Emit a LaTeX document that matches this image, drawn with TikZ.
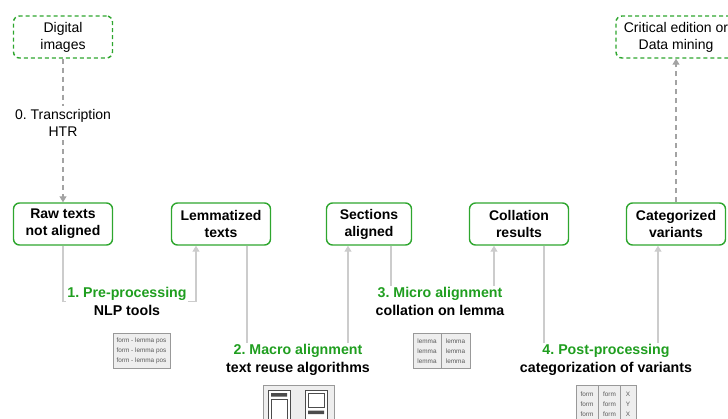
\documentclass[tikz,border=0pt]{standalone}
\usepackage{fontspec}
\setmainfont{Liberation Sans}
\usetikzlibrary{arrows.meta, positioning}
\definecolor{boxgreen}{HTML}{2EA62E}
\definecolor{stepgreen}{HTML}{1F9E1F}
\definecolor{linegray}{HTML}{CCCCCC}
\definecolor{dashgray}{HTML}{A3A3A3}
\definecolor{icongray}{HTML}{EEEEEE}
\tikzset{
    data/.style={draw=boxgreen, line width=1.4pt, rounded corners=6pt,
        minimum width=99pt, minimum height=42pt, align=center,
        font=\fontsize{14}{17}\selectfont\bfseries},
    ends/.style={data, dash pattern=on 4pt off 3pt,
        font=\fontsize{14}{17}\selectfont},
    steptitle/.style={text=stepgreen, inner sep=1pt,
        font=\fontsize{14.2}{17}\selectfont\bfseries},
    stepsub/.style={inner sep=1pt, font=\fontsize{14.2}{17}\selectfont\bfseries},
    link/.style={draw=linegray, line width=1.2pt},
    flow/.style={link, -{Triangle[width=7pt,length=6pt]}},
    dashflow/.style={draw=dashgray, line width=1.2pt, dash pattern=on 5pt off 4pt},
    icon/.style={draw=gray!80, fill=icongray, line width=0.9pt},
    tiny/.style={text=black!65, inner sep=0pt, align=center,
        font=\fontsize{6.4}{10}\selectfont},
}
\begin{document}
\frenchspacing
\begin{tikzpicture}[x=1pt, y=-1pt]
    \useasboundingbox (0,0) rectangle (728,418);
    % start and end
    \node[ends] (digital) at (63,37) {Digital\\images};
    \node[ends, minimum width=120pt] (crit) at (676,37) {Critical edition or\\Data mining};
    \node[align=center, fill=white, font=\fontsize{14}{17}\selectfont] (htr) at (63,123) {0. Transcription\\HTR};
    % data states
    \node[data] (raw) at (63,224) {Raw texts\\not aligned};
    \node[data] (lem) at (221,224) {Lemmatized\\texts};
    \node[data, minimum width=85pt] (sec) at (369,224) {Sections\\aligned};
    \node[data] (col) at (519,224) {Collation\\results};
    \node[data] (cat) at (676,224) {Categorized\\variants};
    % steps
    \node[steptitle] (p1) at (127,294) {1. Pre-processing};
    \node[stepsub, below=2pt of p1] (p1sub) {NLP tools};
    \node[steptitle] (p2) at (298,351) {2. Macro alignment};
    \node[stepsub, below=2pt of p2] (p2sub) {text reuse algorithms};
    \node[steptitle] (p3) at (440,294) {3. Micro alignment};
    \node[stepsub, below=2pt of p3] (p3sub) {collation on lemma};
    \node[steptitle] (p4) at (606,351) {4. Post-processing};
    \node[stepsub, below=2pt of p4] (p4sub) {categorization of variants};
    % connectors
    \draw[dashflow] (digital.south) -- (htr.north);
    \draw[dashflow, -{Triangle[width=7pt,length=6pt]}] (htr.south) -- (raw.north);
    \draw[dashflow, -{Triangle[width=7pt,length=6pt]}] (cat.north) -- (crit.south);
    \draw[link] (raw.south) |- (p1.south west);
    \draw[flow] (p1.south east) -| ([xshift=-25pt]lem.south);
    \draw[link] ([xshift=26pt]lem.south) -- ([xshift=26pt]lem.south |- p2.north);
    \draw[flow] ([xshift=-21pt]sec.south |- p2.north) -- ([xshift=-21pt]sec.south);
    \draw[link] ([xshift=22pt]sec.south) -- ([xshift=22pt]sec.south |- p3.north);
    \draw[flow] ([xshift=-25pt]col.south |- p3.north) -- ([xshift=-25pt]col.south);
    \draw[link] ([xshift=25pt]col.south) -- ([xshift=25pt]col.south |- p4.north);
    \draw[flow] ([xshift=-18pt]cat.south |- p4.north) -- ([xshift=-18pt]cat.south);
    % small pictures
    \draw[icon] (113,333) rectangle (170,368);
    \node[tiny] (tag) at (141.5,351) {form - lemma pos\\form - lemma pos\\form - lemma pos};
    \draw[icon] (413,333) rectangle (470,368) (441,333) -- (441,368);
    \node[tiny] (lemA) at (427,351) {lemma\\lemma\\lemma};
    \node[tiny] (lemB) at (455.5,351) {lemma\\lemma\\lemma};
    \draw[icon] (263,385) rectangle (334,428);
    \draw[draw=black!70, fill=white, line width=0.9pt] (268,390) rectangle (290,428) (305,390) rectangle (327,428);
    \fill[black!70] (271,393) rectangle (287,396.5) (308,410.5) rectangle (324,414);
    \draw[black!70, line width=0.9pt] (271,399.5) rectangle (287,428) (308,393) rectangle (324,407.5);
    \draw[icon] (576,385) rectangle (636,428) (598,385) -- (598,428) (620,385) -- (620,428);
    \node[tiny, align=left] (formA) at (587,404) {form\\form\\form};
    \node[tiny] (formB) at (609.5,404) {form\\form\\form};
    \node[tiny] (cls) at (628,404) {X\\Y\\X};
\end{tikzpicture}
\end{document}
